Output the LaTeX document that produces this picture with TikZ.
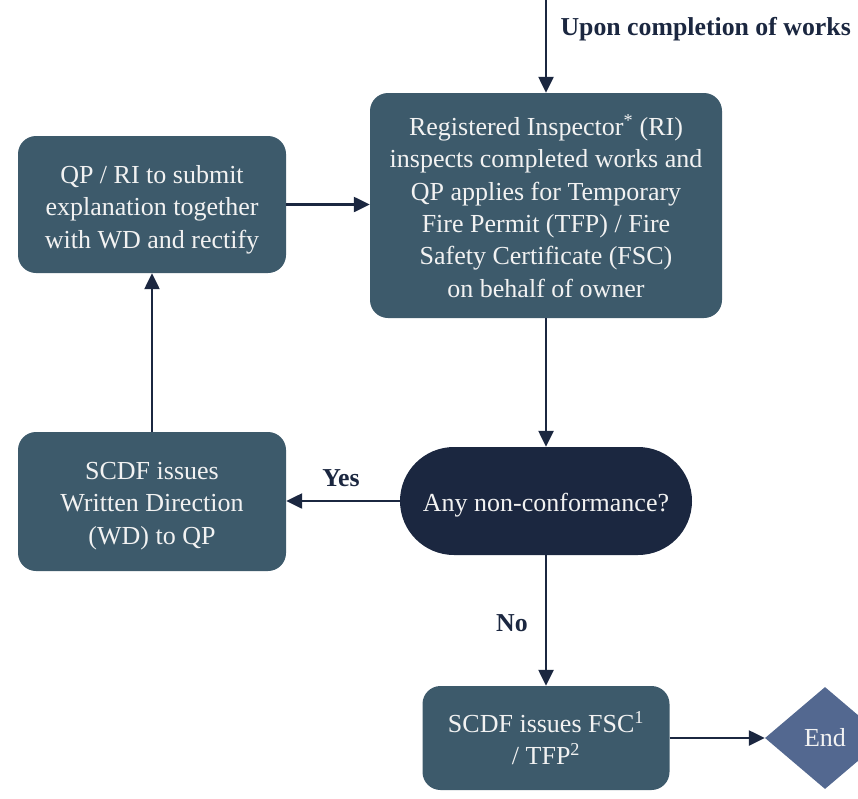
\documentclass[tikz,border=0pt]{standalone}
\usepackage{fontspec}
\setmainfont{Liberation Serif}
\usetikzlibrary{shapes.geometric,arrows.meta,calc}
\definecolor{boxfill}{HTML}{3D5A6B}
\definecolor{navy}{HTML}{1B2740}
\definecolor{endfill}{HTML}{536890}
\definecolor{txt}{HTML}{F2F2F2}
\tikzset{
  box/.style={draw=none,fill=boxfill,rounded corners=18pt,inner sep=0pt},
  decision/.style={draw=none,fill=navy,rounded corners=54pt,inner sep=0pt},
  boxtext/.style={text=txt,align=center,inner sep=0pt,
    font=\fontsize{26}{32.3}\selectfont},
  endnode/.style={diamond,fill=endfill,text=txt,inner sep=0pt,
    minimum width=120pt,minimum height=102pt,font=\fontsize{26}{30}\selectfont},
  conn/.style={draw=navy,line width=2.4pt,-{Triangle[length=16pt,width=15pt]}},
  lbl/.style={text=navy,font=\bfseries\fontsize{25.8}{30}\selectfont}
}
\begin{document}
\begin{tikzpicture}[x=1pt,y=-1pt]
\useasboundingbox (0,0) rectangle (858,798);
\clip (0,0) rectangle (858,798);
\node[box,minimum width=352pt,minimum height=225pt] (ri) at (546,205.5) {};
\node[box,minimum width=268pt,minimum height=137pt] (qp) at (152,204.5) {};
\node[box,minimum width=268pt,minimum height=139pt] (wd) at (152,501.5) {};
\node[decision,minimum width=292pt,minimum height=108pt] (nc) at (546,501) {};
\node[box,minimum width=247pt,minimum height=104pt] (fsc) at (546,738) {};
\node[endnode] (end) at (825,738) {End};
\node[boxtext] (ritext) at ($(ri)+(0,0.5)$)
  {Registered Inspector\textsuperscript{*} (RI)\\inspects completed works and\\QP applies for Temporary\\Fire Permit (TFP) / Fire\\Safety Certificate (FSC)\\on behalf of owner};
\node[boxtext] (qptext) at ($(qp)+(0,5)$)
  {QP / RI to submit\\explanation together\\with WD and rectify};
\node[boxtext] (wdtext) at ($(wd)+(0,4.5)$)
  {SCDF issues\\Written Direction\\(WD) to QP};
\node[boxtext] (nctext) at ($(nc)+(0,4.5)$) {Any non-conformance?};
\node[boxtext] (fsctext) at ($(fsc)+(0,0)$)
  {SCDF issues FSC\textsuperscript{1}\\/ TFP\textsuperscript{2}};
\coordinate (top) at (546,0);
\node[lbl,anchor=west] (upon) at (557,29) {Upon completion of works};
\draw[conn] (top) -- (ri.north);
\draw[conn] (qp.east) -- (ri.west |- qp.east);
\draw[conn] (ri.south) -- (nc.north);
\draw[conn] (nc.west) -- (wd.east |- nc.west);
\draw[conn] (wd.north) -- (qp.south);
\draw[conn] (nc.south) -- (fsc.north);
\draw[conn] (fsc.east) -- (end.west);
\node[lbl] (yes) at (341,478) {Yes};
\node[lbl] (no) at (512,623) {No};
\end{tikzpicture}
\end{document}
